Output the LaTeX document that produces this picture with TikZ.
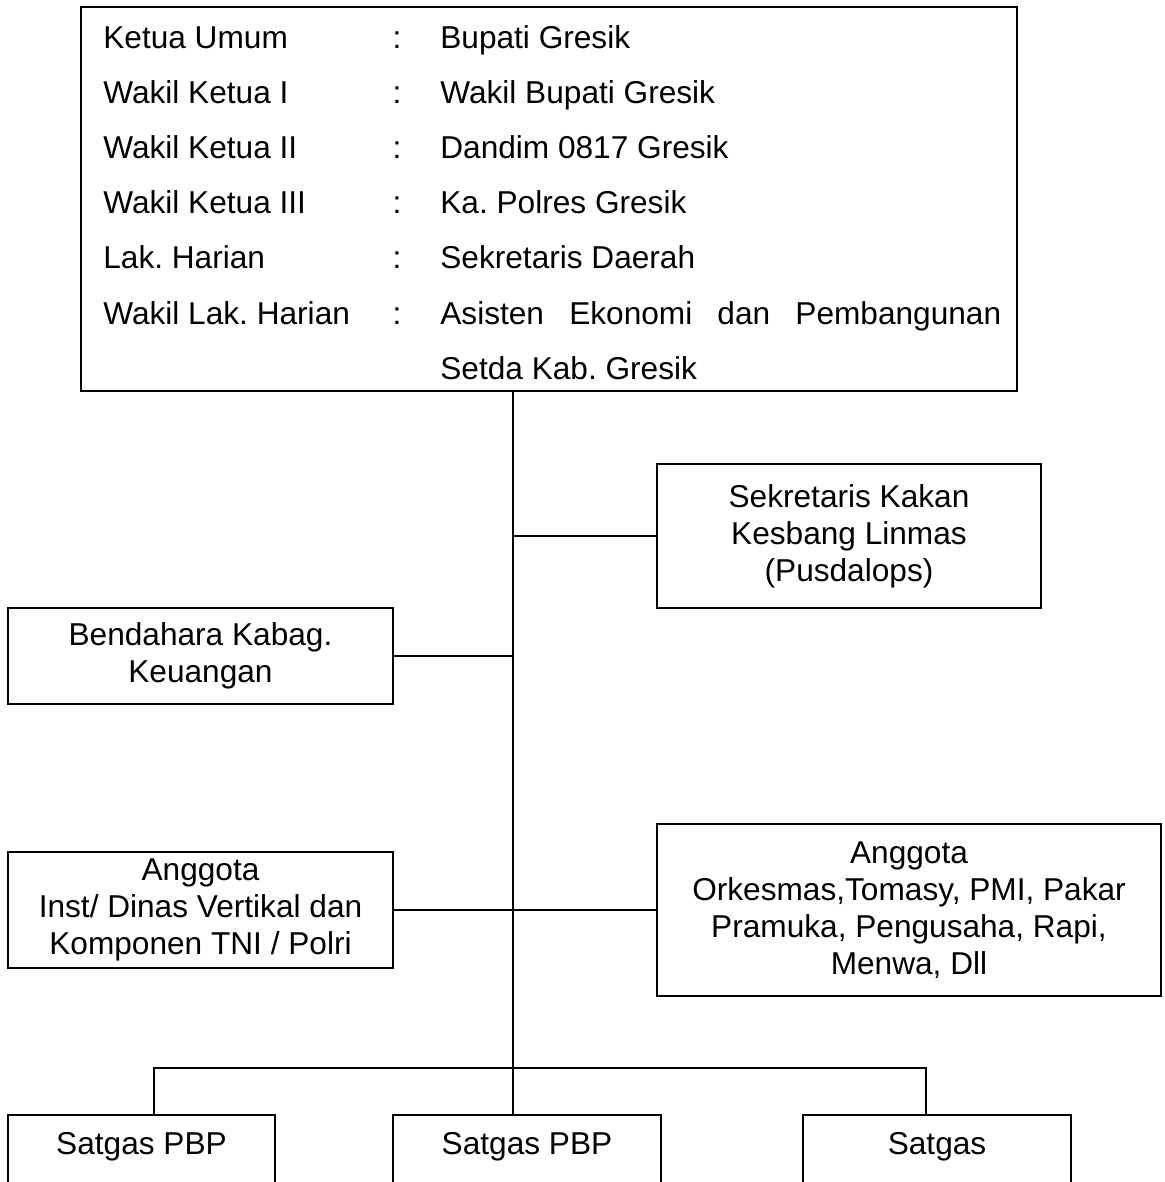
\documentclass[tikz,border=0pt]{standalone}
\usepackage{fontspec}
\setmainfont{Liberation Sans}
\frenchspacing
\usetikzlibrary{calc}
\tikzset{
	kotak/.style={draw, line width=1.2pt, align=center, inner sep=0pt, font=\fontsize{18}{21}\selectfont},
	isi/.style={inner sep=0pt, anchor=base west, font=\fontsize{18}{21}\selectfont},
	titik/.style={inner sep=0pt, anchor=base, font=\fontsize{18}{21}\selectfont},
	garis/.style={line width=0.8pt}
}

\begin{document}
\begin{tikzpicture}[x=0.02cm, y=-0.02cm]
		%%%%% START %%%%%
		
		\clip (0, 0) rectangle (1164, 1182);
		
		\coordinate (batang) at (513, 1068);
		\coordinate (cabangkiri) at (154, 1068);
		\coordinate (cabangkanan) at (926, 1068);
		\coordinate (potong) at (0, 1200);
		
		\node[kotak, minimum width=18.72cm, minimum height=7.68cm] (ketua) at (549, 199) {};
		
		\node[isi] (j1) at (103, 49) {Ketua Umum};
		\node[titik] (c1) at (397, 49) {:};
		\node[isi] (n1) at (440, 49) {Bupati Gresik};
		
		\node[isi] (j2) at (103, 104) {Wakil Ketua I};
		\node[titik] (c2) at (397, 104) {:};
		\node[isi] (n2) at (440, 104) {Wakil Bupati Gresik};
		
		\node[isi] (j3) at (103, 159) {Wakil Ketua II};
		\node[titik] (c3) at (397, 159) {:};
		\node[isi] (n3) at (440, 159) {Dandim 0817 Gresik};
		
		\node[isi] (j4) at (103, 214) {Wakil Ketua III};
		\node[titik] (c4) at (397, 214) {:};
		\node[isi] (n4) at (440, 214) {Ka. Polres Gresik};
		
		\node[isi] (j5) at (103, 269) {Lak. Harian};
		\node[titik] (c5) at (397, 269) {:};
		\node[isi] (n5) at (440, 269) {Sekretaris Daerah};
		
		\node[isi] (j6) at (103, 324) {Wakil Lak. Harian};
		\node[titik] (c6) at (397, 324) {:};
		\node[isi] (n6) at (440, 324) {\makebox[11.22cm][s]{Asisten Ekonomi dan Pembangunan}};
		\node[isi] (n7) at (440, 379) {Setda Kab. Gresik};
		
		\node[kotak, minimum width=7.68cm, minimum height=2.88cm] (sekretaris) at (849, 536) {Sekretaris Kakan\\Kesbang Linmas\\(Pusdalops)};
		\node[kotak, minimum width=7.7cm, minimum height=1.92cm] (bendahara) at (200.5, 656) {Bendahara Kabag.\\Keuangan};
		
		\node[kotak, minimum width=7.7cm, minimum height=2.32cm] (anggotakiri) at (200.5, 910) {Anggota\\Inst/ Dinas Vertikal dan\\Komponen TNI / Polri};
		\node[kotak, minimum width=10.08cm, minimum height=3.44cm] (anggotakanan) at (909, 910) {Anggota\\Orkesmas,Tomasy, PMI, Pakar\\Pramuka, Pengusaha, Rapi,\\Menwa, Dll};
		
		\node[kotak, draw=none, minimum width=5.3cm, minimum height=1.24cm] (satgas1) at (141.5, 1147) {Satgas PBP};
		\node[kotak, draw=none, minimum width=5.32cm, minimum height=1.24cm] (satgas2) at (527, 1147) {Satgas PBP};
		\node[kotak, draw=none, minimum width=5.32cm, minimum height=1.24cm] (satgas3) at (937, 1147) {Satgas};
		
		\draw[line width=1.2pt] (satgas1.west |- potong) |- (satgas1.north east) -- (satgas1.east |- potong);
		\draw[line width=1.2pt] (satgas2.west |- potong) |- (satgas2.north east) -- (satgas2.east |- potong);
		\draw[line width=1.2pt] (satgas3.west |- potong) |- (satgas3.north east) -- (satgas3.east |- potong);
		
		\draw[garis] (ketua.south -| batang) -- (satgas2.north -| batang);
		\draw[garis] (sekretaris.west) -- (sekretaris.west -| batang);
		\draw[garis] (bendahara.east) -- (bendahara.east -| batang);
		\draw[garis] (anggotakiri.east) -- (anggotakanan.west);
		
		\draw[garis] (satgas1.north -| cabangkiri) -- (cabangkiri) -- (cabangkanan) -- (satgas3.north -| cabangkanan);
		
		%%%%% END %%%%%
	\end{tikzpicture}
\end{document}
